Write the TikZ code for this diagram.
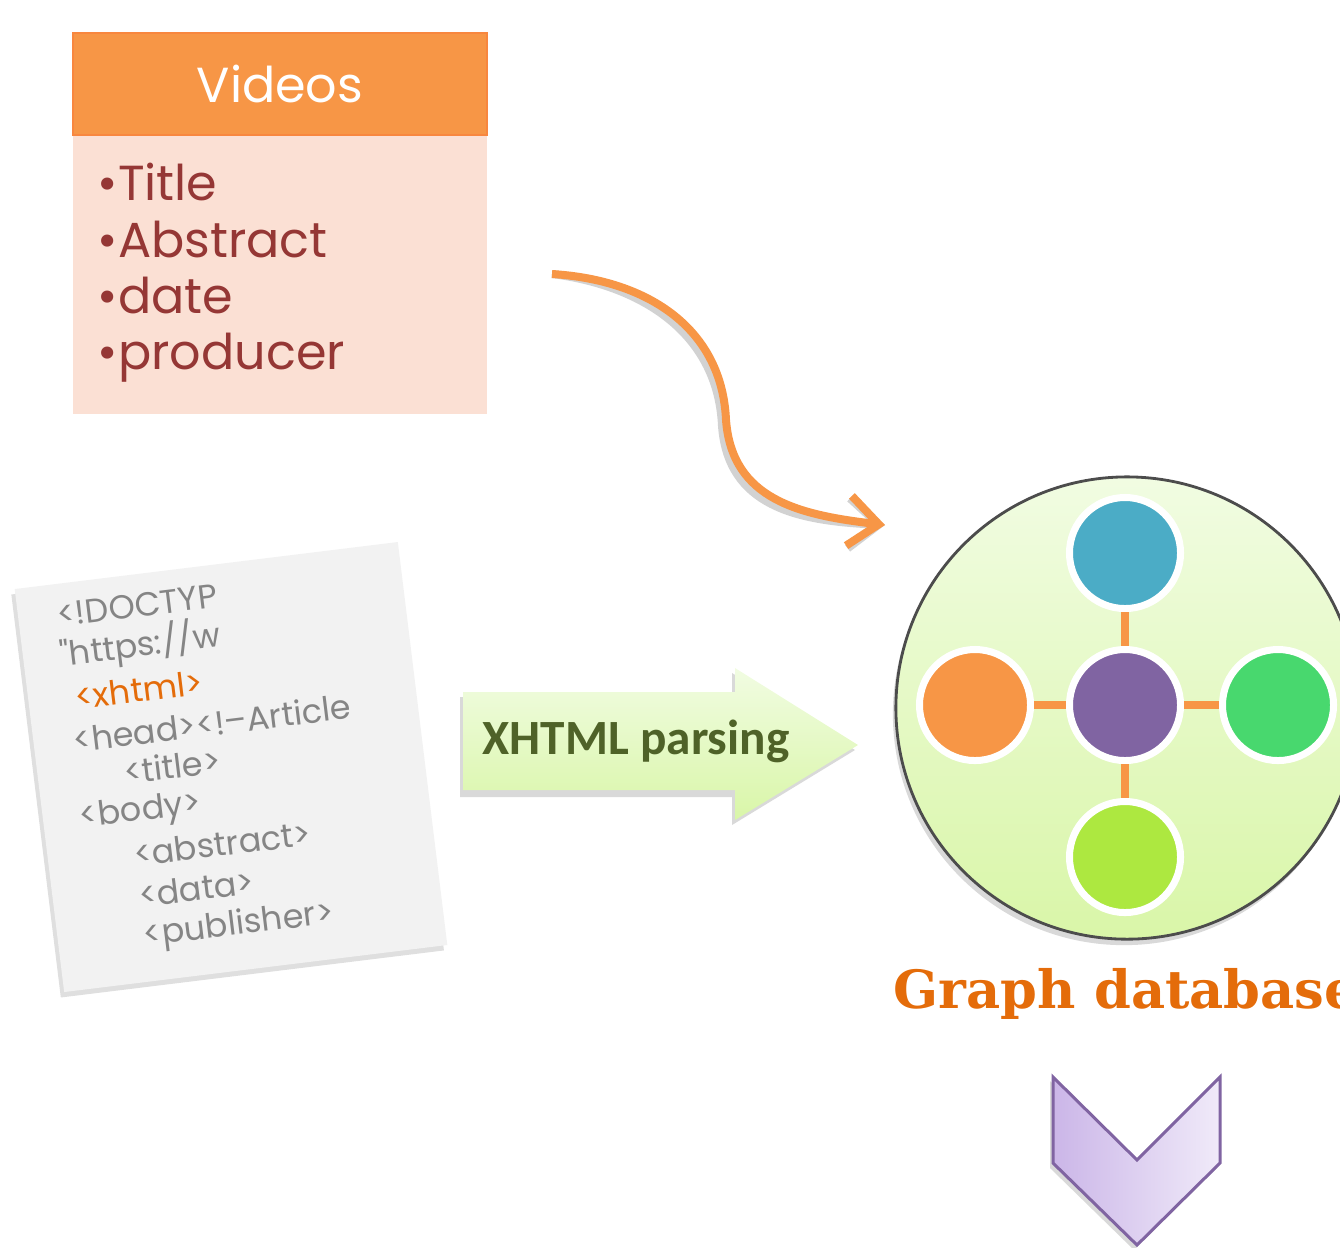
\documentclass[tikz,border=0pt]{standalone}
\usepackage{fontspec}
\usepackage{xcolor}
\usepackage{tikz}
\usetikzlibrary{positioning,arrows.meta,shadows}

\newfontfamily\handfont{Poppins}
\newfontfamily\calfont{Carlito}
\newfontfamily\slabfont{DejaVu Serif}

\definecolor{vidOrange}{HTML}{F79646}
\definecolor{vidBody}{HTML}{FBE0D4}
\definecolor{vidText}{HTML}{953735}
\definecolor{codeGray}{HTML}{858585}
\definecolor{codeOrange}{HTML}{E46C0A}
\definecolor{parseTop}{HTML}{F1FCE2}
\definecolor{parseBot}{HTML}{D9F6A8}
\definecolor{parseText}{HTML}{4F6228}
\definecolor{dotBlue}{HTML}{4BACC6}
\definecolor{dotGreen}{HTML}{48D86E}
\definecolor{dotLime}{HTML}{ADE840}
\definecolor{dotPurple}{HTML}{8064A2}
\definecolor{chevLeft}{HTML}{CBB6E8}
\definecolor{chevRight}{HTML}{F0EAF9}

\begin{document}
\begin{tikzpicture}[x=0.01cm,y=0.01cm,
    headbox/.style={rectangle,fill=vidOrange,draw=vidOrange!90!red,
        minimum width=4.14cm,minimum height=1.02cm,inner sep=0pt,
        text=white,font=\handfont\fontsize{14}{14}\selectfont},
    bodybox/.style={rectangle,fill=vidBody,minimum width=4.14cm,
        minimum height=2.77cm,inner sep=0pt},
    itemtext/.style={align=left,inner sep=0pt,text=vidText,
        font=\handfont\fontsize{14}{16}\selectfont},
    codeline/.style={anchor=west,inner sep=0pt,text=codeGray,
        font=\handfont\fontsize{9.5}{9.5}\selectfont},
    hubdot/.style={circle,minimum size=1.11cm,inner sep=0pt,
        draw=white,line width=0.07cm},
    linkline/.style={vidOrange,line width=0.08cm}]
    \useasboundingbox (0,0) rectangle (1340,-1247);
    \clip (0,0) rectangle (1340,-1247);

    % Videos table
    \node[headbox] (vhead) at (280,-84) {Videos};
    \node[bodybox,below=0pt of vhead] (vbody) {};
    \node[itemtext,anchor=north west] (vlist) at ([xshift=0.25cm,yshift=-0.27cm]vbody.north west)
        {\textbullet Title\\\textbullet Abstract\\\textbullet date\\\textbullet producer};

    % curved orange arrow into the graph database
    \coordinate (cstart) at (552,-274);
    \coordinate (cend) at (885,-525);
    \draw[gray!35,line width=0.08cm,-{Straight Barb[length=0.3cm,width=0.5cm]},shift={(-4,-6)}]
        (cstart) .. controls (650,-280) and (722,-330) .. (726,-420)
        .. controls (732,-500) and (800,-515) .. (cend);
    \draw[vidOrange,line width=0.08cm,-{Straight Barb[length=0.3cm,width=0.5cm]}]
        (cstart) .. controls (650,-280) and (722,-330) .. (726,-420)
        .. controls (732,-500) and (800,-515) .. (cend);

    % XHTML source card
    \begin{scope}[shift={(231,-767)},rotate=7,transform shape]
        \fill[gray!25,shift={(-4,-5)}] (-193,-203) rectangle (193,203);
        \fill[gray!10] (-193,-203) rectangle (193,203);
        \node[codeline] (c1) at (-155,172) {<!DOCTYP};
        \node[codeline] (c2) at (-157,132) {"https://w};
        \node[codeline,text=codeOrange] (c3) at (-147,88) {<xhtml>};
        \node[codeline] (c4) at (-154,46) {<head><!–Article};
        \node[codeline] (c5) at (-108,8) {<title>};
        \node[codeline] (c6) at (-157,-34) {<body>};
        \node[codeline] (c7) at (-108,-75) {<abstract>};
        \node[codeline] (c8) at (-108,-116) {<data>};
        \node[codeline] (c9) at (-108,-159) {<publisher>};
    \end{scope}

    % parsing arrow
    \fill[gray!30] (460,-697) -- (732,-697) -- (732,-673) -- (855,-750)
        -- (732,-825) -- (732,-797) -- (460,-797) -- cycle;
    \shade[top color=parseTop,bottom color=parseBot]
        (463,-692) -- (735,-692) -- (735,-668) -- (858,-745)
        -- (735,-820) -- (735,-790) -- (463,-790) -- cycle;
    \node[anchor=west,inner sep=0pt,text=parseText,
        font=\calfont\bfseries\fontsize{14}{14}\selectfont] (parse) at (482,-741) {XHTML parsing};

    % graph database
    \node[circle,minimum size=4.62cm,draw=gray!60!black,line width=0.8pt,
        top color=parseTop,bottom color=parseBot,
        drop shadow={shadow xshift=-0.03cm,shadow yshift=-0.06cm,opacity=0.3}] (graph) at (1127,-708) {};
    \node[hubdot,fill=dotPurple] (hub) at (1125,-705) {};
    \node[hubdot,fill=dotBlue] (ntop) at (1125,-553) {};
    \node[hubdot,fill=vidOrange] (nleft) at (975,-705) {};
    \node[hubdot,fill=dotGreen] (nright) at (1278,-705) {};
    \node[hubdot,fill=dotLime] (nbottom) at (1125,-857) {};
    \foreach \n in {ntop,nleft,nright,nbottom}
        \draw[linkline] (hub) -- (\n);
    \node[anchor=base west,inner sep=0pt,text=codeOrange,
        font=\slabfont\bfseries\fontsize{15}{15}\selectfont] (gdb) at (893,-1008) {Graph database};

    % purple chevron
    \fill[gray!30] (1050,-1081) -- (1134,-1164) -- (1217,-1081) -- (1217,-1168)
        -- (1134,-1250) -- (1050,-1168) -- cycle;
    \shade[left color=chevLeft,right color=chevRight,draw=dotPurple,line width=0.03cm]
        (1053,-1077) -- (1137,-1160) -- (1220,-1077) -- (1220,-1163)
        -- (1137,-1245) -- (1053,-1163) -- cycle;
\end{tikzpicture}
\end{document}
